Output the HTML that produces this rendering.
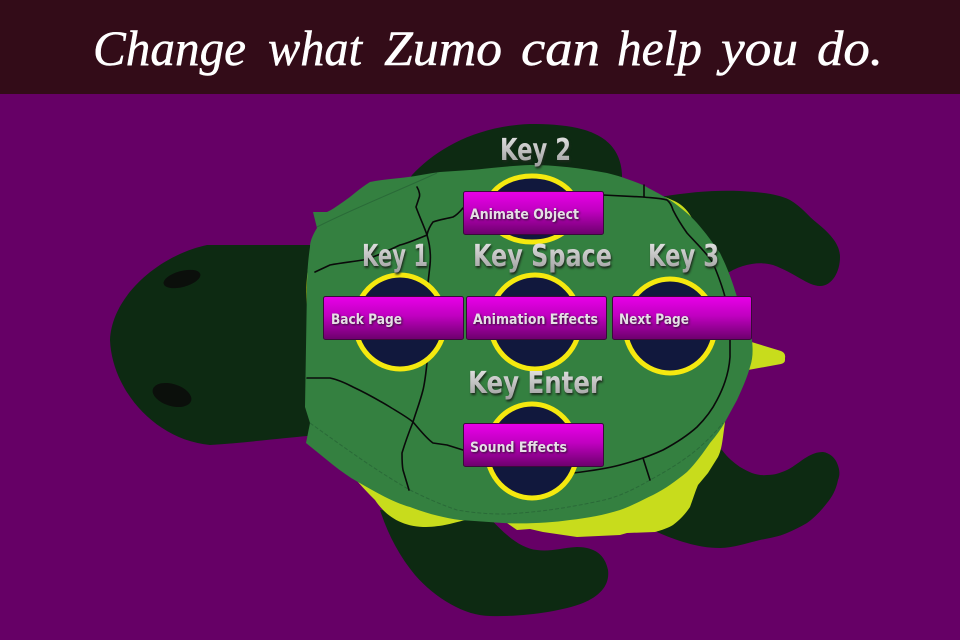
<!DOCTYPE html>
<html><head><meta charset="utf-8"><style>
html,body{margin:0;padding:0;background:#660066}
svg{display:block}
.t{font-family:"Liberation Serif",serif;font-style:italic;font-size:50px;fill:#fff;stroke:#fff;stroke-width:.5}
.k{font:bold 30px "DejaVu Sans Condensed","DejaVu Sans","Liberation Sans",sans-serif;fill:url(#sil);filter:drop-shadow(1px 2px 1px #1c2a1c)}
.b{font:bold 14px "DejaVu Sans Condensed","DejaVu Sans","Liberation Sans",sans-serif;fill:#e6e0e6;filter:drop-shadow(1px 1px 1px #301030)}
.c{fill:none;stroke:#0a0a0a;stroke-width:1.6;stroke-linejoin:round;stroke-linecap:round}
.f{fill:none;stroke:#2a6a38;stroke-width:1}
.h{fill:#11183d;stroke:#f5e90f;stroke-width:5}
.p{fill:url(#btn);stroke:#3a0a3a;stroke-width:1}
</style></head><body>
<svg width="960" height="640" viewBox="0 0 960 640" xmlns="http://www.w3.org/2000/svg">
<defs>
<linearGradient id="btn" x1="0" y1="0" x2="0" y2="1"><stop offset="0" stop-color="#e800e8"/><stop offset=".45" stop-color="#c000c0"/><stop offset="1" stop-color="#6c006c"/></linearGradient>
<linearGradient id="sil" x1="0" y1="0" x2="0" y2="1"><stop offset="0" stop-color="#e8e8e8"/><stop offset="1" stop-color="#9a9a9a"/></linearGradient>
</defs>
<rect width="960" height="640" fill="#660066"/>
<rect width="960" height="94" fill="#330c18"/>
<text class="t" x="93" y="65" textLength="153" lengthAdjust="spacingAndGlyphs">Change</text>
<text class="t" x="268" y="65" textLength="94" lengthAdjust="spacingAndGlyphs">what</text>
<text class="t" x="384" y="65" textLength="118" lengthAdjust="spacingAndGlyphs">Zumo</text>
<text class="t" x="521" y="65" textLength="79" lengthAdjust="spacingAndGlyphs">can</text>
<text class="t" x="617" y="65" textLength="85" lengthAdjust="spacingAndGlyphs">help</text>
<text class="t" x="721" y="65" textLength="77" lengthAdjust="spacingAndGlyphs">you</text>
<text class="t" x="817" y="65" textLength="66" lengthAdjust="spacingAndGlyphs">do.</text>

<!-- body parts -->
<g fill="#0d2a12">
<path d="M320 245 L207 245 C160 255 112 295 110 340 C112 390 155 440 210 445 C245 443 280 438 320 435 Z"/>
<path d="M405 185 L412 175 C435 150 475 126 530 124 C575 124 620 130 622 175 L622 190 Z"/>
<path d="M660 197 C690 192 715 190 740 191 C760 192 778 194 790 200 C802 207 808 216 817 223 C828 232 840 243 840 257 C840 272 832 286 820 286 C808 286 795 273 773 265 C760 261 740 264 725 275 Z"/>
<path d="M680 430 L722 450 C728 458 733 462 740 467 C750 473 758 476 767 475 C775 475 780 473 787 470 C795 466 800 461 807 457 C812 454 817 452 823 452 C830 453 835 458 837 463 C840 470 840 475 838 480 C836 490 832 497 827 503 C821 511 814 518 807 523 C800 527 794 530 787 533 C778 537 769 538 760 540 C747 543 733 548 720 548 C708 548 697 546 687 543 C676 540 666 536 657 532 L640 500 Z"/>
<path d="M380 510 C388 535 400 557 415 575 C435 598 465 616 490 616 C520 617 560 612 583 603 C600 596 610 585 608 570 C605 555 595 547 577 547 C560 548 550 552 537 550 C520 548 505 535 487 515 Z"/>
</g>
<!-- belly -->
<g fill="#c8dc1c">
<path d="M350 475 L358 482 C365 490 370 495 375 500 C385 515 400 526 423 527 C440 527 450 524 465 520 Z"/>
<path d="M500 518 L507 523 L517 530 L530 529 L543 532 L577 537 L620 535 L627 533 L655 532 C662 530 668 528 673 525 C681 519 686 513 690 507 C693 499 695 492 698 485 L708 473 L718 457 C721 451 722 444 723 437 L725 422 L640 470 Z"/>
<path d="M311 256 C306 270 304 300 311 332 L320 300 Z"/>
<path d="M665 197 L672 200 C685 205 692 215 698 232 L685 225 Z"/>
<path d="M745 340 L781 351 Q786 353 785 358 L785 360 Q785 363 781 364 L748 370 Z"/>
</g>
<!-- shell -->
<path fill="#348040" d="M313 212 L317 228 C312 236 310 242 310 247 C308 260 307 275 307 287 L305 407 L310 423 L306 443 C325 458 340 472 358 482 C375 492 395 503 410 507 C428 514 445 518 460 520 L503 523 C525 524 550 523 570 520 C588 518 604 515 620 510 C632 506 642 500 653 495 C665 489 676 481 687 472 C696 463 703 453 710 443 C716 436 721 429 725 422 L737 400 C742 389 747 378 750 367 C753 358 753 350 752 340 C748 322 743 310 737 297 C732 280 727 267 720 253 C713 243 705 232 697 223 C690 215 680 207 670 200 C660 194 650 189 643 185 C630 180 620 176 607 173 C580 168 555 165 530 165 C505 166 485 169 470 170 L440 172 C425 174 412 177 400 178 C390 179 380 180 370 182 C360 188 352 196 343 202 C337 206 332 210 327 212 Z"/>
<!-- faint lines -->
<path class="f" d="M317 227 C350 210 400 190 437 173"/>
<path class="f" stroke-dasharray="4 2" d="M310 423 C345 448 375 470 410 490 C430 500 445 506 457 510 C480 514 495 514 507 514 C540 512 565 508 590 503 C600 501 610 499 620 495 C630 491 640 486 650 480 C665 472 678 464 690 455 C702 446 714 434 723 423"/>
<!-- cracks -->
<path class="c" d="M417 187 C420 192 420 196 419 198 L416 207 C420 218 424 226 427 235 C430 245 431 255 430 265 L428 283"/>
<path class="c" d="M463 208 C458 214 455 216 453 217 C445 219 438 220 433 222 C430 226 428 230 427 235 C415 240 408 243 400 245 C385 252 375 257 363 260 C350 262 340 263 330 265 L315 272"/>
<path class="c" d="M603 195 L643 197 C652 198 660 198 667 200 C671 203 672 207 673 210 C677 218 682 226 687 233 C695 242 706 252 713 263 C718 275 722 285 725 297 C728 310 730 325 730 340 L730 357 C729 372 725 385 717 400 C712 410 705 419 697 427 C687 436 676 443 663 450 C650 456 635 461 620 465 C605 469 590 471 573 473"/>
<path class="c" d="M644 185 L644 197"/>
<path class="c" d="M643 458 L650 480"/>
<path class="c" d="M307 378 L330 378 C340 380 347 384 353 387 C368 394 380 401 390 407 C398 412 407 417 413 422 C420 430 426 438 433 443 L447 445 L463 450"/>
<path class="c" d="M427 363 C426 372 425 382 423 390 C420 402 416 412 413 422 C409 432 405 443 402 453 C402 460 402 465 403 470 L409 490"/>

<!-- holes -->
<ellipse class="h" cx="532" cy="209" rx="45" ry="33"/>
<ellipse class="h" cx="400" cy="322" rx="45" ry="47"/>
<ellipse class="h" cx="535" cy="322" rx="45" ry="47"/>
<ellipse class="h" cx="670" cy="326" rx="45" ry="47"/>
<ellipse class="h" cx="532" cy="451" rx="45" ry="47"/>

<!-- eyes -->
<ellipse cx="182" cy="279" rx="19" ry="8" fill="#0b0f0b" transform="rotate(-15 182 279)"/>
<ellipse cx="172" cy="395" rx="20" ry="11" fill="#0b0f0b" transform="rotate(17 172 395)"/>

<!-- buttons -->
<rect class="p" x="463.5" y="191.5" width="140" height="43" rx="2"/>
<rect class="p" x="323.5" y="296.5" width="140" height="43" rx="2"/>
<rect class="p" x="466.5" y="296.5" width="140" height="43" rx="2"/>
<rect class="p" x="612.5" y="296.5" width="139" height="43" rx="2"/>
<rect class="p" x="463.5" y="423.5" width="140" height="43" rx="2"/>
<text class="b" x="470" y="219" textLength="109" lengthAdjust="spacingAndGlyphs">Animate Object</text>
<text class="b" x="331" y="324" textLength="71" lengthAdjust="spacingAndGlyphs">Back Page</text>
<text class="b" x="473" y="324" textLength="125" lengthAdjust="spacingAndGlyphs">Animation Effects</text>
<text class="b" x="619" y="324" textLength="70" lengthAdjust="spacingAndGlyphs">Next Page</text>
<text class="b" x="470" y="452" textLength="97" lengthAdjust="spacingAndGlyphs">Sound Effects</text>

<!-- key labels -->
<text class="k" x="500" y="160" textLength="71" lengthAdjust="spacingAndGlyphs">Key 2</text>
<text class="k" x="362" y="266" textLength="66" lengthAdjust="spacingAndGlyphs">Key 1</text>
<text class="k" x="473" y="266" textLength="139" lengthAdjust="spacingAndGlyphs">Key Space</text>
<text class="k" x="648" y="266" textLength="71" lengthAdjust="spacingAndGlyphs">Key 3</text>
<text class="k" x="468" y="393" textLength="134" lengthAdjust="spacingAndGlyphs">Key Enter</text>
</svg>
</body></html>
